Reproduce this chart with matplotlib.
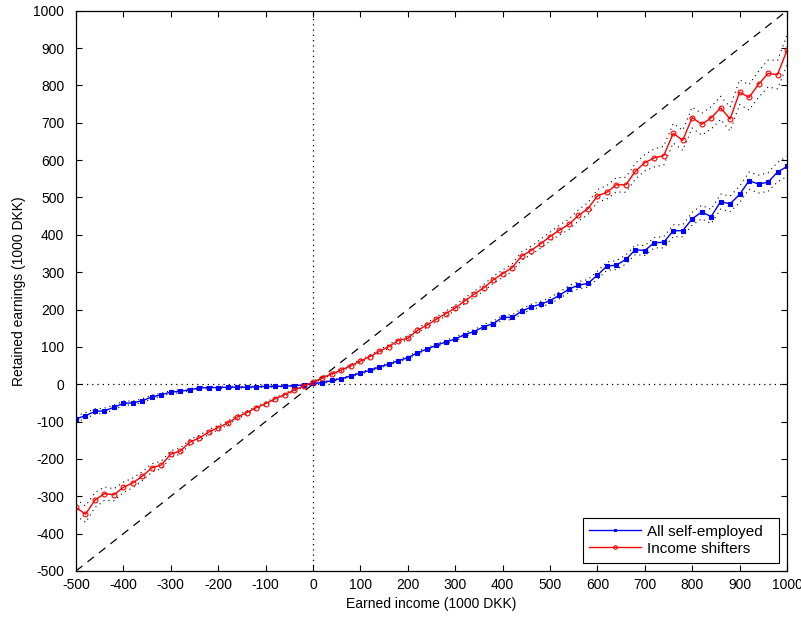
import numpy as np
import matplotlib
matplotlib.use('Agg')
import matplotlib.pyplot as plt

plt.rcParams['font.family'] = ['Liberation Sans', 'DejaVu Sans']
plt.rcParams['font.size'] = 10
plt.rcParams['axes.unicode_minus'] = False

# earned income grid (1000 DKK)
income = np.arange(-500, 1001, 20)

# retained earnings, all self-employed
all_se = [-93, -84, -73, -71, -62, -51, -50, -44, -34, -28, -21, -19, -15,
          -10, -9, -9, -8, -8, -8, -7, -6, -6, -5, -4, -2,
          2, 4, 10, 15, 22, 30, 37, 46, 54, 63, 71, 84, 94, 104, 113, 121,
          133, 141, 154, 162, 179, 179, 195, 207, 214, 224, 238, 255, 265,
          270, 292, 316, 319, 334, 360, 358, 379, 380, 411, 411, 443, 461,
          449, 489, 483, 508, 545, 536, 541, 568, 583]
all_se_hw = [8, 8, 7, 7, 6, 6, 5, 5, 5, 4, 4, 4, 3, 3, 3, 3, 3, 2, 2, 2, 2,
             2, 2, 2, 2,
             2, 2, 2, 2, 2, 3, 3, 3, 3, 3, 4, 4, 4, 4, 5, 5, 5, 5, 6, 6, 6,
             7, 7, 7, 8, 8, 9, 9, 10, 10, 11, 11, 12, 12, 13, 13, 14, 15, 16,
             16, 17, 18, 19, 20, 21, 22, 23, 24, 25, 26, 27]

# retained earnings, income shifters
shifters = [-330, -348, -310, -293, -296, -276, -264, -246, -224, -216, -187,
            -179, -155, -144, -128, -116, -104, -88, -76, -63, -52, -39, -28,
            -16, -5,
            5, 17, 28, 38, 50, 62, 74, 88, 101, 117, 123, 144, 158, 174, 189,
            204, 223, 241, 258, 279, 296, 312, 343, 358, 376, 395, 413, 428,
            452, 470, 504, 514, 534, 534, 570, 593, 606, 612, 672, 653, 714,
            696, 713, 740, 710, 782, 768, 803, 832, 829, 894]
shifters_hw = [22, 22, 20, 18, 16, 14, 13, 12, 11, 10, 9, 8, 7, 7, 6, 6, 5, 5,
               4, 4, 4, 3, 3, 3, 3,
               3, 3, 3, 3, 3, 4, 4, 4, 5, 5, 5, 6, 6, 6, 7, 7, 8, 8, 9, 9, 10,
               10, 11, 11, 12, 12, 13, 14, 15, 16, 17, 18, 19, 20, 21, 22, 24,
               25, 26, 27, 28, 29, 30, 31, 32, 33, 34, 35, 36, 38, 40]

xlim = (-500, 1000)
ylim = (-500, 1000)

fig = plt.figure(figsize=(8.01, 6.17), dpi=100)
ax = fig.add_axes([0.0949, 0.0746, 0.8876, 0.908])

# reference lines
ax.plot(xlim, [0, 0], color='k', lw=0.9, dashes=(1, 3.2))
ax.plot([0, 0], ylim, color='k', lw=0.9, dashes=(1, 3.2))
ax.plot(xlim, ylim, color='k', lw=0.9, dashes=(6.5, 5.2))

for yv, hw in ((all_se, all_se_hw), (shifters, shifters_hw)):
    yv = np.asarray(yv, float)
    hw = np.asarray(hw, float)
    ax.plot(income, yv + hw, color='k', lw=0.8, dashes=(1, 3.5))
    ax.plot(income, yv - hw, color='k', lw=0.8, dashes=(1, 3.5))

ax.plot(income, all_se, color='b', lw=1, marker='s', ms=2.6, mew=0.8,
        label='All self-employed')
ax.plot(income, shifters, color='r', lw=1, marker='o', ms=3.5, mew=0.8,
        mfc='none', label='Income shifters')

ax.set_xlim(*xlim)
ax.set_ylim(*ylim)
ax.set_xticks(np.arange(-500, 1001, 100))
ax.set_yticks(np.arange(-500, 1001, 100))
ax.tick_params(direction='in', top=True, right=True, length=4, width=0.8,
               labelsize=10)
ax.tick_params(axis='x', pad=5)
ax.tick_params(axis='y', pad=8.5)
for s in ax.spines.values():
    s.set_linewidth(0.9)

ax.set_xlabel('Earned income (1000 DKK)', labelpad=4)
ax.set_ylabel('Retained earnings (1000 DKK)', labelpad=5)

leg = ax.legend(loc='lower right', fancybox=False, framealpha=1,
                edgecolor='k', handlelength=3.4, handletextpad=0.4,
                borderaxespad=0.55, borderpad=0.45, labelspacing=0.2,
                markerscale=0.7, fontsize=11)
leg.get_frame().set_linewidth(0.8)
# widen the frame a little, as in the original
leg._legend_box.sep = 6
for t in leg.get_texts():
    t.set_text(t.get_text() + '  ')

fig.savefig('out.png', dpi=100)
